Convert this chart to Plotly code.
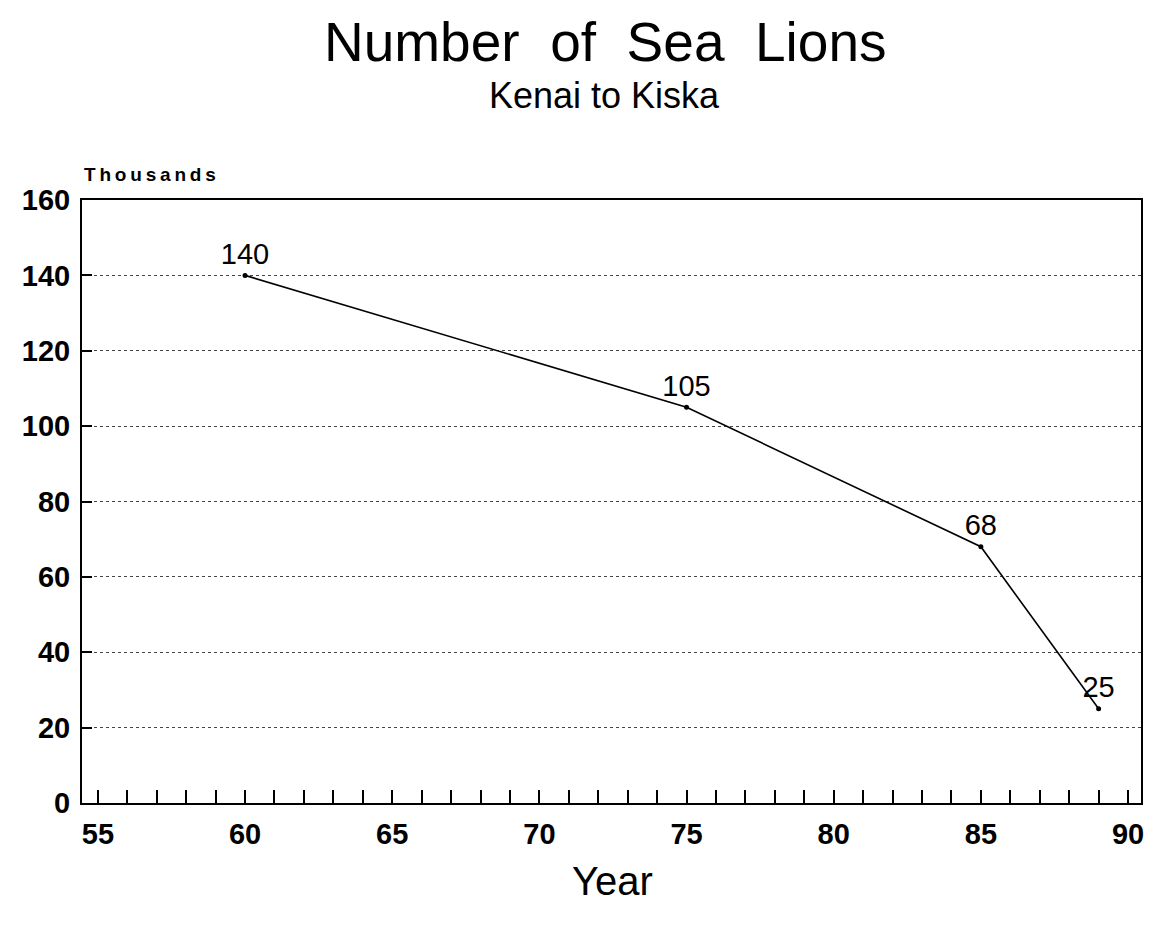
import plotly.graph_objects as go

years = [60, 75, 85, 89]
sea_lions = [140, 105, 68, 25]
labels = ["140", "105", "68", "25"]
x_ticks = [55, 60, 65, 70, 75, 80, 85, 90]
y_ticks = [0, 20, 40, 60, 80, 100, 120, 140, 160]

font = "Liberation Sans, Arial, sans-serif"
# page offset of the plot div is 8px (body margin)
OFF = 8
W, H = 1147, 920
l, r, t, b = 74, 14, 192, 125
pw, ph = W - l - r, H - t - b


def paper(xp, yp):
    return (xp - OFF - l) / pw, (H - b - (yp - OFF)) / ph


fig = go.Figure()
fig.add_trace(go.Scatter(
    x=years, y=sea_lions, mode="lines+markers+text",
    text=labels, textposition="top center",
    textfont=dict(family=font, size=29, color="black"),
    line=dict(color="black", width=1.6),
    marker=dict(color="black", size=5),
    cliponaxis=False, showlegend=False,
))

fig.update_layout(
    width=W, height=H,
    margin=dict(l=l, r=r, t=t, b=b),
    paper_bgcolor="white", plot_bgcolor="white",
    font=dict(family=font, color="black"),
    xaxis=dict(
        range=[54.46, 90.44], tickvals=x_ticks, ticktext=[str(v) for v in x_ticks],
        ticks="inside", ticklen=13, tickwidth=1.5, tickcolor="black",
        minor=dict(dtick=1, tick0=55, ticks="inside", ticklen=13, tickwidth=1.5,
                   tickcolor="black", showgrid=False),
        showline=True, linecolor="black", linewidth=2, mirror=True,
        showgrid=False, zeroline=False, ticklabelstandoff=4,
        tickfont=dict(family=font, size=29, color="black", weight="bold"),
    ),
    yaxis=dict(
        range=[0, 160], tickvals=y_ticks,
        ticks="inside", ticklen=10, tickwidth=1.5, tickcolor="black",
        showline=True, linecolor="black", linewidth=2, mirror=True,
        showgrid=True, gridcolor="#444444", gridwidth=1, griddash="dot",
        zeroline=False, ticklabelstandoff=4,
        tickfont=dict(family=font, size=29, color="black", weight="bold"),
    ),
)

ann = [
    ("Number\u00a0\u00a0of\u00a0\u00a0Sea\u00a0\u00a0Lions", 605, 42, 55, "normal", "center"),
    ("Kenai to Kiska", 604, 96, 36, "normal", "center"),
    ("T\u2009h\u2009o\u2009u\u2009s\u2009a\u2009n\u2009d\u2009s", 82, 174, 19, "bold", "left"),
    ("Year", 612, 881, 40, "normal", "center"),
]
for text, xp, yp, size, weight, xa in ann:
    px_, py_ = paper(xp, yp)
    fig.add_annotation(text=text, x=px_, y=py_, xref="paper", yref="paper",
                       showarrow=False, xanchor=xa, yanchor="middle",
                       font=dict(family=font, size=size, color="black", weight=weight))

fig.write_html("out.html")
